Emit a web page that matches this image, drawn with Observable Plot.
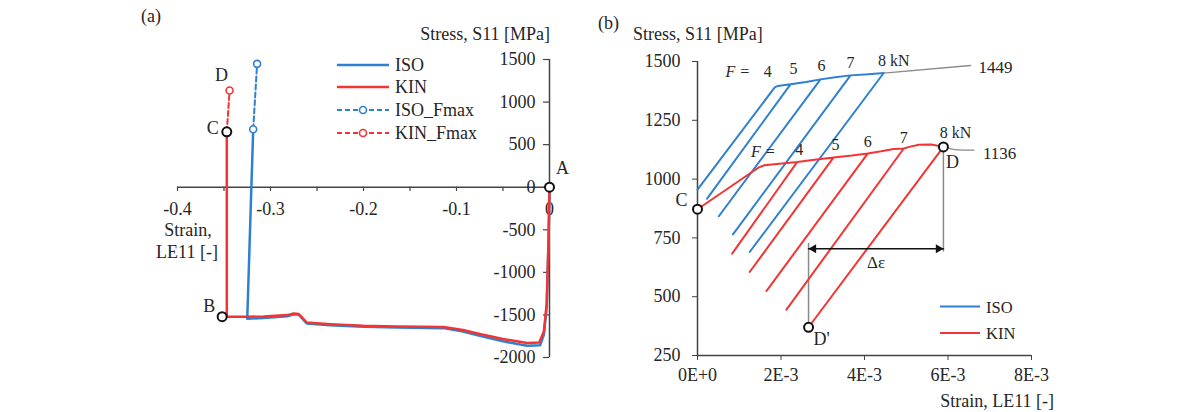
<!DOCTYPE html>
<html><head><meta charset="utf-8">
<script src="https://cdn.jsdelivr.net/npm/d3@7"></script>
<script src="https://cdn.jsdelivr.net/npm/@observablehq/plot@0.6"></script>
<style>
body{margin:0;background:#fff;}
#wrap{position:relative;width:1192px;height:412px;overflow:hidden;background:#fff;}
#wrap svg{position:absolute;top:0;}
</style></head>
<body><div id="wrap"></div>
<script>
// ---------- Panel (a) data ----------
const aIsoStrain = [0, -0.001, -0.003, -0.006, -0.010, -0.024, -0.050, -0.075, -0.093, -0.114, -0.164, -0.200, -0.236, -0.261, -0.266, -0.270, -0.275, -0.282, -0.3075, -0.325, -0.3186];
const aIsoStress = [0, -620, -1400, -1730, -1855, -1862, -1810, -1745, -1695, -1655, -1648, -1640, -1622, -1600, -1540, -1495, -1492, -1515, -1535, -1545, 680];
const aKinStrain = [0, -0.001, -0.003, -0.006, -0.011, -0.024, -0.050, -0.075, -0.093, -0.114, -0.164, -0.200, -0.236, -0.261, -0.266, -0.270, -0.275, -0.282, -0.3075, -0.325, -0.347, -0.352, -0.347, -0.347];
const aKinStress = [0, -600, -1370, -1690, -1823, -1830, -1783, -1725, -1678, -1642, -1636, -1627, -1608, -1589, -1530, -1488, -1483, -1502, -1518, -1522, -1522, -1520, -1516, 650];
const aIsoFmaxStrain = [-0.3186, -0.3144];
const aIsoFmaxStress = [680, 1449];
const aKinFmaxStrain = [-0.347, -0.344];
const aKinFmaxStress = [650, 1136];
const aKeyLabels = ["A", "B", "C"];
const aKeyStrain = [0, -0.352, -0.347];
const aKeyStress = [0, -1520, 650];
const aXTicks = [-0.4, -0.3, -0.2, -0.1, 0];
const aXTickLabels = ["-0.4", "-0.3", "-0.2", "-0.1", "0"];
const aXMinor = [-0.4, -0.35, -0.3, -0.25, -0.2, -0.15, -0.1, -0.05, 0];
const aYTicks = [1500, 1000, 500, 0, -500, -1000, -1500, -2000];
const aYTickLabels = ["1500", "1000", "500", "0", "-500", "-1000", "-1500", "-2000"];
const aLegend = ["ISO", "KIN", "ISO_Fmax", "KIN_Fmax"];

// ---------- Panel (b) data ----------
const bIsoStrain = [0, 0.00185, 0.001924, 0.002227, 0.00023, 0.002227, 0.0026, 0.002946, 0.00051, 0.002946, 0.0033, 0.003665, 0.00085, 0.003665, 0.0041, 0.00446, 0.00125];
const bIsoStress = [955, 1390, 1396, 1403, 917, 1403, 1413, 1424, 842, 1424, 1433, 1441, 765, 1441, 1446, 1451, 690];
const bKinStrain = [0, 0.00127, 0.00147, 0.0016, 0.00239, 0.00083, 0.00239, 0.0028, 0.00326, 0.00125, 0.00326, 0.0037, 0.00408, 0.00165, 0.00408, 0.0044, 0.0047, 0.00494, 0.00213, 0.00494, 0.0051, 0.0053, 0.0056, 0.00589, 0.00266];
const bKinStress = [872, 1026, 1050, 1059, 1073, 683, 1073, 1082, 1092, 605, 1092, 1100, 1109, 524, 1109, 1118, 1128, 1130, 445, 1130, 1138, 1146, 1147, 1137, 370];
const bIsoPeakStrain = [0.001924, 0.002227, 0.002946, 0.003665, 0.00446];
const bIsoPeakStress = [1396, 1403, 1424, 1441, 1451];
const bKinPeakStrain = [0.00239, 0.00326, 0.00408, 0.00494, 0.00589];
const bKinPeakStress = [1073, 1092, 1109, 1130, 1137];
const bForceLabels = ["4", "5", "6", "7", "8 kN"];
const bKeyLabels = ["C", "D", "D'"];
const bKeyStrain = [0, 0.00589, 0.00266];
const bKeyStress = [872, 1137, 370];
const bLead1449Strain = [0.00446, 0.00654];
const bLead1449Stress = [1451, 1483];
const bLead1136Strain = [0.00589, 0.00605, 0.00622, 0.00662];
const bLead1136Stress = [1137, 1130, 1123, 1123];
const bMaxLabels = ["1449", "1136"];
const bDeltaStrain = [0.00266, 0.00589];
const bDeltaStress = 704;
const bDropStress = [727, 690];
const bXTicks = [0, 0.002, 0.004, 0.006, 0.008];
const bXTickLabels = ["0E+0", "2E-3", "4E-3", "6E-3", "8E-3"];
const bYTicks = [250, 500, 750, 1000, 1250, 1500];
const bYTickLabels = ["250", "500", "750", "1000", "1250", "1500"];
const bLegend = ["ISO", "KIN"];

// ---------- styles ----------
const BLUE = "#2f80d0", RED = "#f23434", AX = "#444", GRAY = "#8a8a8a", INK = "#262626";
const FONT = "Liberation Serif";
const pts = (xs, ys) => xs.map((x, i) => ({x, y: ys[i]}));
const wrap = document.getElementById("wrap");
const baseStyle = {fontFamily: FONT, fontSize: "18px", color: INK, background: "transparent", overflow: "visible"};

// ---------- Panel (a) ----------
const isoA = pts(aIsoStrain, aIsoStress);
const kinA = pts(aKinStrain, aKinStress);
const isoFA = pts(aIsoFmaxStrain, aIsoFmaxStress);
const kinFA = pts(aKinFmaxStrain, aKinFmaxStress);
const keyA = aKeyLabels.map((l, i) => ({label: l, x: aKeyStrain[i], y: aKeyStress[i]}));

const plotA = Plot.plot({
  width: 600, height: 412,
  marginLeft: 177, marginRight: 51, marginTop: 59, marginBottom: 55,
  x: {domain: [-0.4, 0], axis: null},
  y: {domain: [-2000, 1500], axis: null},
  style: baseStyle,
  marks: [
    Plot.ruleY([0], {stroke: AX, strokeWidth: 1.5}),
    Plot.ruleX([0], {stroke: AX, strokeWidth: 1.5}),
    Plot.ruleX(aXMinor, {x: d => d, y1: -50, y2: 0, stroke: AX, strokeWidth: 1.2}),
    Plot.ruleY(aYTicks, {y: d => d, x1: -0.0065, x2: 0, stroke: AX, strokeWidth: 1.2}),
    Plot.text(aXTicks, {x: d => d, y: 0, dy: 22, text: (d, i) => aXTickLabels[i], fill: INK}),
    Plot.text(aYTicks, {x: 0, y: d => d, dx: -14, textAnchor: "end", text: (d, i) => aYTickLabels[i], fill: INK}),
    Plot.line(isoA, {x: "x", y: "y", stroke: BLUE, strokeWidth: 2.5}),
    Plot.line(kinA, {x: "x", y: "y", stroke: RED, strokeWidth: 2.5}),
    Plot.line(isoFA, {x: "x", y: "y", stroke: BLUE, strokeWidth: 2, strokeDasharray: "5,3"}),
    Plot.line(kinFA, {x: "x", y: "y", stroke: RED, strokeWidth: 2, strokeDasharray: "5,3"}),
    Plot.dot(isoFA, {x: "x", y: "y", r: 3.5, stroke: BLUE, fill: "white", strokeWidth: 1.6}),
    Plot.dot(kinFA.slice(1), {x: "x", y: "y", r: 3.5, stroke: RED, fill: "white", strokeWidth: 1.6}),
    Plot.dot(keyA, {x: "x", y: "y", r: 4.5, stroke: "#111", fill: "white", strokeWidth: 2}),
    Plot.text(keyA.filter(d => d.label === "A"), {x: "x", y: "y", text: "label", dx: 13, dy: -19, fill: INK}),
    Plot.text(keyA.filter(d => d.label === "B"), {x: "x", y: "y", text: "label", dx: -13, dy: -10, fill: INK}),
    Plot.text(keyA.filter(d => d.label === "C"), {x: "x", y: "y", text: "label", dx: -14, dy: -4, fill: INK}),
    Plot.text(kinFA.slice(1), {x: "x", y: "y", text: () => "D", dx: -8, dy: -15, fill: INK})
  ]
});
plotA.style.left = "0px";
wrap.appendChild(plotA);

// ---------- Panel (b) ----------
const isoB = pts(bIsoStrain, bIsoStress);
const kinB = pts(bKinStrain, bKinStress);
const isoPk = bForceLabels.map((l, i) => ({label: l, x: bIsoPeakStrain[i], y: bIsoPeakStress[i]}));
const kinPk = bForceLabels.map((l, i) => ({label: l, x: bKinPeakStrain[i], y: bKinPeakStress[i]}));
const keyB = bKeyLabels.map((l, i) => ({label: l, x: bKeyStrain[i], y: bKeyStress[i]}));
const lead1449 = pts(bLead1449Strain, bLead1449Stress);
const lead1136 = pts(bLead1136Strain, bLead1136Stress);
const delta = bDeltaStrain.map(x => ({x, y: bDeltaStress}));
const drops = [
  {x: bDeltaStrain[0], y1: bKeyStress[2], y2: bDropStress[0]},
  {x: bDeltaStrain[1], y1: bKeyStress[1], y2: bDropStress[1]}
];
const pkText = (arr, lbl, dx, dy, extra = {}) =>
  Plot.text(arr.filter(d => d.label === lbl), {x: "x", y: "y", text: "label", dx, dy, fontSize: 16, fill: INK, ...extra});

const plotB = Plot.plot({
  width: 592, height: 412,
  marginLeft: 97, marginRight: 161, marginTop: 61, marginBottom: 57,
  x: {domain: [0, 0.008]},
  y: {domain: [250, 1500]},
  style: baseStyle,
  marks: [
    Plot.axisY(bYTicks, {tickSize: 5, tickPadding: 12, stroke: AX, fill: INK, tickFormat: d => bYTickLabels[bYTicks.indexOf(d)], label: null}),
    Plot.axisX(bXTicks, {tickSize: 5, tickPadding: 8, stroke: AX, fill: INK, tickFormat: d => bXTickLabels[bXTicks.indexOf(d)], label: null}),
    Plot.ruleX([0], {stroke: AX, strokeWidth: 1.5}),
    Plot.ruleY([250], {stroke: AX, strokeWidth: 1.5}),
    Plot.line(lead1449, {x: "x", y: "y", stroke: GRAY, strokeWidth: 1.3}),
    Plot.line(lead1136, {x: "x", y: "y", stroke: GRAY, strokeWidth: 1.3, curve: "basis"}),
    Plot.text(lead1449.slice(1), {x: "x", y: "y", text: () => bMaxLabels[0], dx: 8, dy: 2, textAnchor: "start", fontSize: 17, fill: INK}),
    Plot.text(lead1136.slice(3), {x: "x", y: "y", text: () => bMaxLabels[1], dx: 9, dy: 3, textAnchor: "start", fontSize: 17, fill: INK}),
    Plot.ruleX(drops, {x: "x", y1: "y1", y2: "y2", stroke: GRAY, strokeWidth: 1.5}),
    Plot.line(isoB, {x: "x", y: "y", stroke: BLUE, strokeWidth: 2}),
    Plot.line(kinB, {x: "x", y: "y", stroke: RED, strokeWidth: 2}),
    Plot.line(delta, {x: "x", y: "y", stroke: "#111", strokeWidth: 1.6}),
    Plot.dot(delta.slice(0, 1), {x: "x", y: "y", symbol: "triangle", r: 3.3, fill: "#111", rotate: -90, dx: 5}),
    Plot.dot(delta.slice(1), {x: "x", y: "y", symbol: "triangle", r: 3.3, fill: "#111", rotate: 90, dx: -5}),
    Plot.text([delta], {x: d => (d[0].x + d[1].x) / 2, y: d => d[0].y, text: () => "Δε", dy: 14, fontSize: 17, fill: INK}),
    Plot.dot(keyB, {x: "x", y: "y", r: 4.5, stroke: "#111", fill: "white", strokeWidth: 2}),
    Plot.text(keyB.filter(d => d.label === "C"), {x: "x", y: "y", text: "label", dx: -16, dy: -9, fill: INK}),
    Plot.text(keyB.filter(d => d.label === "D"), {x: "x", y: "y", text: "label", dx: 9, dy: 15, fill: INK}),
    Plot.text(keyB.filter(d => d.label === "D'"), {x: "x", y: "y", text: "label", dx: 13, dy: 12, fill: INK}),
    // ISO force labels
    Plot.text(isoPk.slice(0, 1), {x: "x", y: "y", text: () => "F =", dx: -40, dy: -14, fontSize: 16, fontStyle: "italic", fill: INK}),
    pkText(isoPk, "4", -10, -14),
    pkText(isoPk, "5", 3, -15),
    pkText(isoPk, "6", 1, -14),
    pkText(isoPk, "7", 0, -13),
    pkText(isoPk, "8 kN", 10, -12),
    // KIN force labels
    Plot.text(kinPk.slice(0, 1), {x: "x", y: "y", text: () => "F =", dx: -34, dy: -10, fontSize: 16, fontStyle: "italic", fill: INK}),
    pkText(kinPk, "4", 2, -12),
    pkText(kinPk, "5", 2, -13),
    pkText(kinPk, "6", 0, -12),
    pkText(kinPk, "7", 0, -11),
    pkText(kinPk, "8 kN", 12, -14)
  ]
});
plotB.style.left = "600px";
wrap.appendChild(plotB);

// ---------- overlay: panel titles, axis titles, legends ----------
const ov = d3.create("svg").attr("width", 1192).attr("height", 412)
  .style("left", "0px").style("font-family", FONT).style("font-size", "18px").attr("fill", INK);
const T = (x, y, s, anchor = "start", size = null) => {
  const t = ov.append("text").attr("x", x).attr("y", y).attr("text-anchor", anchor).text(s);
  if (size) t.style("font-size", size);
  return t;
};
T(141, 22, "(a)");
T(550, 40, "Stress, S11 [MPa]", "end");
T(188, 236, "Strain,", "middle");
T(187, 258, "LE11 [-]", "middle");
T(598, 29, "(b)");
T(633, 40, "Stress, S11 [MPa]");
T(1054, 407, "Strain, LE11 [-]", "end");

// legend (a)
const legA = [
  {c: BLUE, dash: null, dot: false},
  {c: RED, dash: null, dot: false},
  {c: BLUE, dash: "5,3", dot: true},
  {c: RED, dash: "5,3", dot: true}
];
const legAY = [65, 87, 110, 133];
aLegend.forEach((name, i) => {
  const s = legA[i], y = legAY[i];
  const l = ov.append("line").attr("x1", 337).attr("x2", 389).attr("y1", y).attr("y2", y)
    .attr("stroke", s.c).attr("stroke-width", 2.5);
  if (s.dash) l.attr("stroke-dasharray", s.dash).attr("stroke-width", 2);
  if (s.dot) ov.append("circle").attr("cx", 363).attr("cy", y).attr("r", 3.5)
    .attr("fill", "white").attr("stroke", s.c).attr("stroke-width", 1.6);
  T(395, y + 6, name);
});
// legend (b)
const legBY = [306.5, 333];
[BLUE, RED].forEach((c, i) => {
  ov.append("line").attr("x1", 940).attr("x2", 980).attr("y1", legBY[i]).attr("y2", legBY[i])
    .attr("stroke", c).attr("stroke-width", 2);
  T(986, legBY[i] + 6, bLegend[i], "start", "16.5px");
});
wrap.appendChild(ov.node());
</script>
</body></html>
